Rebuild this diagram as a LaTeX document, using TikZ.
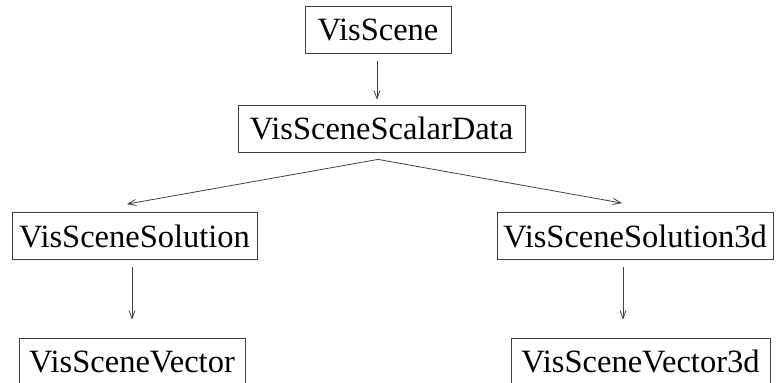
\documentclass[tikz,border=0pt]{standalone}
\usepackage{fontspec}
\setmainfont{Liberation Serif}
\usepackage{tikz}
\usetikzlibrary{arrows.meta,positioning}

\begin{document}
\begin{tikzpicture}[x=1pt, y=-1pt,
        box/.style={draw=black!75, line width=0.8pt, inner sep=0pt, minimum height=47pt, align=center, font=\fontsize{32.5}{36}\selectfont},
        arr/.style={draw=black!75, line width=0.8pt, -{Straight Barb[length=8pt,width=6pt]}}
    ]
    \useasboundingbox (0,0) rectangle (777,383);
    % Klassen
    \node[box, minimum width=146pt] (scene) at (378,30) {VisScene};
    \node[box, minimum width=287pt] (scalar) at (381.5,128.5) {VisSceneScalarData};
    \node[box, minimum width=245pt] (sol) at (134.5,236) {VisSceneSolution};
    \node[box, minimum width=276pt] (sol3d) at (635,236) {VisSceneSolution3d};
    \node[box, minimum width=226pt] (vec) at (132,361.5) {VisSceneVector};
    \node[box, minimum width=259pt] (vec3d) at (640.5,361.5) {VisSceneVector3d};
    % Vererbung
    \draw[arr] ([xshift=-1pt,yshift=-7pt]scene.south) -- ([xshift=-4.5pt,yshift=5pt]scalar.north);
    \draw[arr] ([xshift=-3.5pt,yshift=-7pt]scalar.south) -- ([xshift=-7.5pt,yshift=8pt]sol.north);
    \draw[arr] ([xshift=-3.5pt,yshift=-7pt]scalar.south) -- ([xshift=-13pt,yshift=9pt]sol3d.north);
    \draw[arr] ([xshift=-2.5pt,yshift=-7pt]sol.south) -- ([yshift=18pt]vec.north);
    \draw[arr] ([xshift=-12pt,yshift=-7pt]sol3d.south) -- ([xshift=-17.5pt,yshift=18pt]vec3d.north);
\end{tikzpicture}
\end{document}
